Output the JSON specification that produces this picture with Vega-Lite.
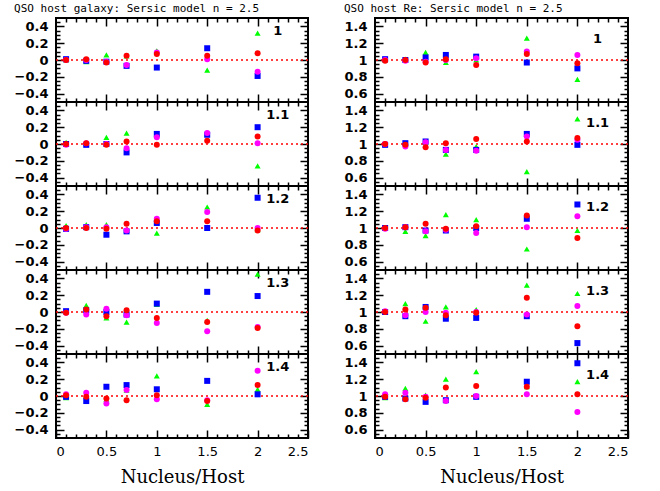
{
"$schema":"https://vega.github.io/schema/vega-lite/v6.json",
"background":"white",
"padding":{"left":13,"top":2,"right":5,"bottom":5},
"spacing":32,
"config":{
 "view":{"stroke":"black","strokeWidth":2},
 "axis":{"grid":false,"domain":false,"labels":false,"ticks":true,"tickColor":"black","tickWidth":1.5,"labelColor":"black","labelFont":"DejaVu Sans","labelFontSize":13,"titleColor":"black"},
 "title":{"font":"DejaVu Sans Mono","fontSize":11,"fontWeight":"normal","anchor":"start","offset":3,"color":"black"},
 "text":{"font":"DejaVu Sans","fontWeight":"bold","fontSize":13,"align":"center","baseline":"middle","color":"black"}
},
"datasets":{
"L":[
{"n":"1","s":"g","x":0.1,"v":0.0},{"n":"1","s":"g","x":0.3,"v":-0.02},{"n":"1","s":"g","x":0.5,"v":0.06},{"n":"1","s":"g","x":0.7,"v":0.05},{"n":"1","s":"g","x":1.0,"v":0.11},{"n":"1","s":"g","x":1.5,"v":-0.12},{"n":"1","s":"g","x":2.0,"v":0.32},
{"n":"1","s":"b","x":0.1,"v":0.01},{"n":"1","s":"b","x":0.3,"v":-0.01},{"n":"1","s":"b","x":0.5,"v":-0.02},{"n":"1","s":"b","x":0.7,"v":-0.07},{"n":"1","s":"b","x":1.0,"v":-0.09},{"n":"1","s":"b","x":1.5,"v":0.14},{"n":"1","s":"b","x":2.0,"v":-0.19},
{"n":"1","s":"m","x":0.1,"v":0.0},{"n":"1","s":"m","x":0.3,"v":0.0},{"n":"1","s":"m","x":0.5,"v":-0.02},{"n":"1","s":"m","x":0.7,"v":-0.06},{"n":"1","s":"m","x":1.0,"v":0.09},{"n":"1","s":"m","x":1.5,"v":0.01},{"n":"1","s":"m","x":2.0,"v":-0.14},
{"n":"1","s":"r","x":0.1,"v":0.0},{"n":"1","s":"r","x":0.3,"v":0.01},{"n":"1","s":"r","x":0.5,"v":-0.03},{"n":"1","s":"r","x":0.7,"v":0.05},{"n":"1","s":"r","x":1.0,"v":0.07},{"n":"1","s":"r","x":1.5,"v":0.05},{"n":"1","s":"r","x":2.0,"v":0.08},
{"n":"1.1","s":"g","x":0.1,"v":0.02},{"n":"1.1","s":"g","x":0.3,"v":0.01},{"n":"1.1","s":"g","x":0.5,"v":0.08},{"n":"1.1","s":"g","x":0.7,"v":0.13},{"n":"1.1","s":"g","x":1.0,"v":0.12},{"n":"1.1","s":"g","x":1.5,"v":0.12},{"n":"1.1","s":"g","x":2.0,"v":-0.26},
{"n":"1.1","s":"b","x":0.1,"v":0.0},{"n":"1.1","s":"b","x":0.3,"v":-0.01},{"n":"1.1","s":"b","x":0.5,"v":0.0},{"n":"1.1","s":"b","x":0.7,"v":-0.1},{"n":"1.1","s":"b","x":1.0,"v":0.12},{"n":"1.1","s":"b","x":1.5,"v":0.11},{"n":"1.1","s":"b","x":2.0,"v":0.2},
{"n":"1.1","s":"m","x":0.1,"v":-0.01},{"n":"1.1","s":"m","x":0.3,"v":0.01},{"n":"1.1","s":"m","x":0.5,"v":0.0},{"n":"1.1","s":"m","x":0.7,"v":-0.05},{"n":"1.1","s":"m","x":1.0,"v":0.08},{"n":"1.1","s":"m","x":1.5,"v":0.13},{"n":"1.1","s":"m","x":2.0,"v":0.01},
{"n":"1.1","s":"r","x":0.1,"v":0.0},{"n":"1.1","s":"r","x":0.3,"v":0.01},{"n":"1.1","s":"r","x":0.5,"v":-0.01},{"n":"1.1","s":"r","x":0.7,"v":0.03},{"n":"1.1","s":"r","x":1.0,"v":-0.01},{"n":"1.1","s":"r","x":1.5,"v":0.04},{"n":"1.1","s":"r","x":2.0,"v":0.09},
{"n":"1.2","s":"g","x":0.1,"v":0.03},{"n":"1.2","s":"g","x":0.3,"v":0.04},{"n":"1.2","s":"g","x":0.5,"v":0.04},{"n":"1.2","s":"g","x":0.7,"v":-0.03},{"n":"1.2","s":"g","x":1.0,"v":-0.06},{"n":"1.2","s":"g","x":1.5,"v":0.25},{"n":"1.2","s":"g","x":2.0,"v":-0.02},
{"n":"1.2","s":"b","x":0.1,"v":-0.01},{"n":"1.2","s":"b","x":0.3,"v":0.01},{"n":"1.2","s":"b","x":0.5,"v":-0.08},{"n":"1.2","s":"b","x":0.7,"v":-0.04},{"n":"1.2","s":"b","x":1.0,"v":0.06},{"n":"1.2","s":"b","x":1.5,"v":0.0},{"n":"1.2","s":"b","x":2.0,"v":0.36},
{"n":"1.2","s":"m","x":0.1,"v":-0.01},{"n":"1.2","s":"m","x":0.3,"v":0.01},{"n":"1.2","s":"m","x":0.5,"v":0.01},{"n":"1.2","s":"m","x":0.7,"v":-0.03},{"n":"1.2","s":"m","x":1.0,"v":0.11},{"n":"1.2","s":"m","x":1.5,"v":0.19},{"n":"1.2","s":"m","x":2.0,"v":0.0},
{"n":"1.2","s":"r","x":0.1,"v":0.0},{"n":"1.2","s":"r","x":0.3,"v":0.0},{"n":"1.2","s":"r","x":0.5,"v":-0.01},{"n":"1.2","s":"r","x":0.7,"v":0.05},{"n":"1.2","s":"r","x":1.0,"v":0.08},{"n":"1.2","s":"r","x":1.5,"v":0.08},{"n":"1.2","s":"r","x":2.0,"v":-0.03},
{"n":"1.3","s":"g","x":0.1,"v":0.0},{"n":"1.3","s":"g","x":0.3,"v":0.08},{"n":"1.3","s":"g","x":0.5,"v":-0.07},{"n":"1.3","s":"g","x":0.7,"v":-0.12},{"n":"1.3","s":"g","x":1.0,"v":0.09},{"n":"1.3","s":"g","x":1.5,"v":-0.1},{"n":"1.3","s":"g","x":2.0,"v":0.45},
{"n":"1.3","s":"b","x":0.1,"v":0.01},{"n":"1.3","s":"b","x":0.3,"v":0.02},{"n":"1.3","s":"b","x":0.5,"v":0.0},{"n":"1.3","s":"b","x":0.7,"v":-0.03},{"n":"1.3","s":"b","x":1.0,"v":0.1},{"n":"1.3","s":"b","x":1.5,"v":0.24},{"n":"1.3","s":"b","x":2.0,"v":0.19},
{"n":"1.3","s":"m","x":0.1,"v":-0.01},{"n":"1.3","s":"m","x":0.3,"v":-0.03},{"n":"1.3","s":"m","x":0.5,"v":0.04},{"n":"1.3","s":"m","x":0.7,"v":-0.04},{"n":"1.3","s":"m","x":1.0,"v":-0.13},{"n":"1.3","s":"m","x":1.5,"v":-0.23},{"n":"1.3","s":"m","x":2.0,"v":-0.18},
{"n":"1.3","s":"r","x":0.1,"v":-0.01},{"n":"1.3","s":"r","x":0.3,"v":0.03},{"n":"1.3","s":"r","x":0.5,"v":-0.05},{"n":"1.3","s":"r","x":0.7,"v":0.02},{"n":"1.3","s":"r","x":1.0,"v":-0.07},{"n":"1.3","s":"r","x":1.5,"v":-0.12},{"n":"1.3","s":"r","x":2.0,"v":-0.19},
{"n":"1.4","s":"g","x":0.1,"v":-0.02},{"n":"1.4","s":"g","x":0.3,"v":0.0},{"n":"1.4","s":"g","x":0.5,"v":-0.04},{"n":"1.4","s":"g","x":0.7,"v":0.07},{"n":"1.4","s":"g","x":1.0,"v":0.24},{"n":"1.4","s":"g","x":1.5,"v":-0.1},{"n":"1.4","s":"g","x":2.0,"v":0.08},
{"n":"1.4","s":"b","x":0.1,"v":-0.01},{"n":"1.4","s":"b","x":0.3,"v":-0.06},{"n":"1.4","s":"b","x":0.5,"v":0.11},{"n":"1.4","s":"b","x":0.7,"v":0.13},{"n":"1.4","s":"b","x":1.0,"v":0.08},{"n":"1.4","s":"b","x":1.5,"v":0.18},{"n":"1.4","s":"b","x":2.0,"v":0.02},
{"n":"1.4","s":"m","x":0.1,"v":0.02},{"n":"1.4","s":"m","x":0.3,"v":0.04},{"n":"1.4","s":"m","x":0.5,"v":-0.09},{"n":"1.4","s":"m","x":0.7,"v":0.07},{"n":"1.4","s":"m","x":1.0,"v":-0.04},{"n":"1.4","s":"m","x":1.5,"v":-0.05},{"n":"1.4","s":"m","x":2.0,"v":0.3},
{"n":"1.4","s":"r","x":0.1,"v":0.01},{"n":"1.4","s":"r","x":0.3,"v":-0.01},{"n":"1.4","s":"r","x":0.5,"v":-0.03},{"n":"1.4","s":"r","x":0.7,"v":-0.05},{"n":"1.4","s":"r","x":1.0,"v":0.01},{"n":"1.4","s":"r","x":1.5,"v":-0.06},{"n":"1.4","s":"r","x":2.0,"v":0.13}
],
"R":[
{"n":"1","s":"g","x":0.1,"v":1.0},{"n":"1","s":"g","x":0.3,"v":1.01},{"n":"1","s":"g","x":0.5,"v":1.09},{"n":"1","s":"g","x":0.7,"v":0.97},{"n":"1","s":"g","x":1.0,"v":1.0},{"n":"1","s":"g","x":1.5,"v":1.26},{"n":"1","s":"g","x":2.0,"v":0.77},
{"n":"1","s":"b","x":0.1,"v":1.01},{"n":"1","s":"b","x":0.3,"v":1.0},{"n":"1","s":"b","x":0.5,"v":1.03},{"n":"1","s":"b","x":0.7,"v":1.06},{"n":"1","s":"b","x":1.0,"v":1.04},{"n":"1","s":"b","x":1.5,"v":0.97},{"n":"1","s":"b","x":2.0,"v":0.9},
{"n":"1","s":"m","x":0.1,"v":1.0},{"n":"1","s":"m","x":0.3,"v":0.99},{"n":"1","s":"m","x":0.5,"v":0.98},{"n":"1","s":"m","x":0.7,"v":1.0},{"n":"1","s":"m","x":1.0,"v":1.02},{"n":"1","s":"m","x":1.5,"v":1.1},{"n":"1","s":"m","x":2.0,"v":1.06},
{"n":"1","s":"r","x":0.1,"v":0.99},{"n":"1","s":"r","x":0.3,"v":1.0},{"n":"1","s":"r","x":0.5,"v":0.97},{"n":"1","s":"r","x":0.7,"v":1.01},{"n":"1","s":"r","x":1.0,"v":0.94},{"n":"1","s":"r","x":1.5,"v":1.07},{"n":"1","s":"r","x":2.0,"v":0.96},
{"n":"1.1","s":"g","x":0.1,"v":1.0},{"n":"1.1","s":"g","x":0.3,"v":1.0},{"n":"1.1","s":"g","x":0.5,"v":1.02},{"n":"1.1","s":"g","x":0.7,"v":0.88},{"n":"1.1","s":"g","x":1.0,"v":0.97},{"n":"1.1","s":"g","x":1.5,"v":0.67},{"n":"1.1","s":"g","x":2.0,"v":1.3},
{"n":"1.1","s":"b","x":0.1,"v":0.99},{"n":"1.1","s":"b","x":0.3,"v":1.01},{"n":"1.1","s":"b","x":0.5,"v":1.03},{"n":"1.1","s":"b","x":0.7,"v":0.93},{"n":"1.1","s":"b","x":1.0,"v":0.93},{"n":"1.1","s":"b","x":1.5,"v":1.12},{"n":"1.1","s":"b","x":2.0,"v":0.99},
{"n":"1.1","s":"m","x":0.1,"v":1.0},{"n":"1.1","s":"m","x":0.3,"v":0.97},{"n":"1.1","s":"m","x":0.5,"v":1.02},{"n":"1.1","s":"m","x":0.7,"v":0.93},{"n":"1.1","s":"m","x":1.0,"v":0.92},{"n":"1.1","s":"m","x":1.5,"v":1.09},{"n":"1.1","s":"m","x":2.0,"v":1.05},
{"n":"1.1","s":"r","x":0.1,"v":1.0},{"n":"1.1","s":"r","x":0.3,"v":0.99},{"n":"1.1","s":"r","x":0.5,"v":0.96},{"n":"1.1","s":"r","x":0.7,"v":1.01},{"n":"1.1","s":"r","x":1.0,"v":1.06},{"n":"1.1","s":"r","x":1.5,"v":1.03},{"n":"1.1","s":"r","x":2.0,"v":1.07},
{"n":"1.2","s":"g","x":0.1,"v":1.0},{"n":"1.2","s":"g","x":0.3,"v":0.96},{"n":"1.2","s":"g","x":0.5,"v":0.91},{"n":"1.2","s":"g","x":0.7,"v":1.16},{"n":"1.2","s":"g","x":1.0,"v":1.1},{"n":"1.2","s":"g","x":1.5,"v":0.75},{"n":"1.2","s":"g","x":2.0,"v":0.97},
{"n":"1.2","s":"b","x":0.1,"v":1.0},{"n":"1.2","s":"b","x":0.3,"v":1.01},{"n":"1.2","s":"b","x":0.5,"v":0.97},{"n":"1.2","s":"b","x":0.7,"v":0.97},{"n":"1.2","s":"b","x":1.0,"v":1.0},{"n":"1.2","s":"b","x":1.5,"v":1.11},{"n":"1.2","s":"b","x":2.0,"v":1.28},
{"n":"1.2","s":"m","x":0.1,"v":0.99},{"n":"1.2","s":"m","x":0.3,"v":1.01},{"n":"1.2","s":"m","x":0.5,"v":0.96},{"n":"1.2","s":"m","x":0.7,"v":0.98},{"n":"1.2","s":"m","x":1.0,"v":0.94},{"n":"1.2","s":"m","x":1.5,"v":1.01},{"n":"1.2","s":"m","x":2.0,"v":1.14},
{"n":"1.2","s":"r","x":0.1,"v":1.0},{"n":"1.2","s":"r","x":0.3,"v":1.01},{"n":"1.2","s":"r","x":0.5,"v":1.05},{"n":"1.2","s":"r","x":0.7,"v":0.99},{"n":"1.2","s":"r","x":1.0,"v":1.02},{"n":"1.2","s":"r","x":1.5,"v":1.15},{"n":"1.2","s":"r","x":2.0,"v":0.88},
{"n":"1.3","s":"g","x":0.1,"v":1.0},{"n":"1.3","s":"g","x":0.3,"v":1.1},{"n":"1.3","s":"g","x":0.5,"v":0.89},{"n":"1.3","s":"g","x":0.7,"v":1.06},{"n":"1.3","s":"g","x":1.0,"v":1.03},{"n":"1.3","s":"g","x":1.5,"v":1.32},{"n":"1.3","s":"g","x":2.0,"v":1.22},
{"n":"1.3","s":"b","x":0.1,"v":1.0},{"n":"1.3","s":"b","x":0.3,"v":0.95},{"n":"1.3","s":"b","x":0.5,"v":1.06},{"n":"1.3","s":"b","x":0.7,"v":0.92},{"n":"1.3","s":"b","x":1.0,"v":0.93},{"n":"1.3","s":"b","x":1.5,"v":0.95},{"n":"1.3","s":"b","x":2.0,"v":0.63},
{"n":"1.3","s":"m","x":0.1,"v":1.01},{"n":"1.3","s":"m","x":0.3,"v":0.96},{"n":"1.3","s":"m","x":0.5,"v":1.0},{"n":"1.3","s":"m","x":0.7,"v":0.99},{"n":"1.3","s":"m","x":1.0,"v":1.0},{"n":"1.3","s":"m","x":1.5,"v":0.97},{"n":"1.3","s":"m","x":2.0,"v":1.07},
{"n":"1.3","s":"r","x":0.1,"v":1.0},{"n":"1.3","s":"r","x":0.3,"v":1.03},{"n":"1.3","s":"r","x":0.5,"v":1.05},{"n":"1.3","s":"r","x":0.7,"v":0.96},{"n":"1.3","s":"r","x":1.0,"v":0.99},{"n":"1.3","s":"r","x":1.5,"v":1.17},{"n":"1.3","s":"r","x":2.0,"v":0.83},
{"n":"1.4","s":"g","x":0.1,"v":0.98},{"n":"1.4","s":"g","x":0.3,"v":1.09},{"n":"1.4","s":"g","x":0.5,"v":1.01},{"n":"1.4","s":"g","x":0.7,"v":1.2},{"n":"1.4","s":"g","x":1.0,"v":1.29},{"n":"1.4","s":"g","x":1.5,"v":1.11},{"n":"1.4","s":"g","x":2.0,"v":1.17},
{"n":"1.4","s":"b","x":0.1,"v":0.99},{"n":"1.4","s":"b","x":0.3,"v":0.97},{"n":"1.4","s":"b","x":0.5,"v":0.93},{"n":"1.4","s":"b","x":0.7,"v":0.95},{"n":"1.4","s":"b","x":1.0,"v":0.99},{"n":"1.4","s":"b","x":1.5,"v":1.17},{"n":"1.4","s":"b","x":2.0,"v":1.39},
{"n":"1.4","s":"m","x":0.1,"v":1.02},{"n":"1.4","s":"m","x":0.3,"v":1.04},{"n":"1.4","s":"m","x":0.5,"v":0.99},{"n":"1.4","s":"m","x":0.7,"v":0.94},{"n":"1.4","s":"m","x":1.0,"v":1.0},{"n":"1.4","s":"m","x":1.5,"v":1.02},{"n":"1.4","s":"m","x":2.0,"v":0.81},
{"n":"1.4","s":"r","x":0.1,"v":0.99},{"n":"1.4","s":"r","x":0.3,"v":0.96},{"n":"1.4","s":"r","x":0.5,"v":0.98},{"n":"1.4","s":"r","x":0.7,"v":1.1},{"n":"1.4","s":"r","x":1.0,"v":1.12},{"n":"1.4","s":"r","x":1.5,"v":1.11},{"n":"1.4","s":"r","x":2.0,"v":1.02}
]
},
"hconcat":[
{"spacing":0,"bounds":"flush","vconcat":[
{"width":252,"height":84,"title":"QSO host galaxy: Sersic model n = 2.5","resolve":{"axis":{"x":"independent","y":"independent"}},"layer":[
 {"data":{"values":[{}]},"mark":{"type":"rule","color":"#ff0000","strokeDash":[2,3],"strokeWidth":1.5},"encoding":{"y":{"datum":0,"axis":{"orient":"left","values":[-0.45,-0.35,-0.3,-0.25,-0.15,-0.1,-0.05,0.05,0.1,0.15,0.25,0.3,0.35,0.45],"offset":-4,"tickSize":4,"title":null}}}},
 {"data":{"name":"L"},"transform":[{"filter":"datum.n == '1'"}],"mark":{"type":"point","filled":true,"opacity":1,"size":36},"encoding":{
  "x":{"field":"x","type":"quantitative","scale":{"domain":[0,2.5],"nice":false},"axis":{"orient":"bottom","values":[0.5,1,1.5,2],"offset":-8,"tickSize":8,"title":null}},
  "y":{"field":"v","type":"quantitative","scale":{"domain":[-0.5,0.5],"nice":false},"axis":{"orient":"left","values":[-0.4,-0.2,0,0.2,0.4],"offset":-8,"tickSize":8,"labels":true,"labelFontWeight":"bold","labelPadding":8,"format":"~g","title":null}},
  "color":{"field":"s","type":"nominal","scale":{"domain":["g","b","m","r"],"range":["#00ff00","#0000ff","#ff00ff","#ff0000"]},"legend":null},
  "shape":{"field":"s","type":"nominal","scale":{"domain":["g","b","m","r"],"range":["triangle-up","square","circle","circle"]},"legend":null}}},
 {"data":{"values":[{}]},"mark":{"type":"text","text":"1"},"encoding":{"x":{"datum":2.2,"axis":{"orient":"top","values":[0.5,1,1.5,2],"offset":-8,"tickSize":8,"title":null}},"y":{"datum":0.34,"axis":{"orient":"right","values":[-0.4,-0.2,0,0.2,0.4],"offset":-8,"tickSize":8,"title":null}}}},
 {"data":{"values":[{}]},"mark":{"type":"text","text":" "},"encoding":{"x":{"datum":1,"axis":{"orient":"bottom","values":[0.1,0.2,0.3,0.4,0.6,0.7,0.8,0.9,1.1,1.2,1.3,1.4,1.6,1.7,1.8,1.9,2.1,2.2,2.3,2.4],"offset":-4,"tickSize":4,"title":null}},"y":{"datum":0,"axis":{"orient":"right","values":[-0.45,-0.35,-0.3,-0.25,-0.15,-0.1,-0.05,0.05,0.1,0.15,0.25,0.3,0.35,0.45],"offset":-4,"tickSize":4,"title":null}}}},
 {"data":{"values":[{}]},"mark":{"type":"text","text":" "},"encoding":{"x":{"datum":1,"axis":{"orient":"top","values":[0.1,0.2,0.3,0.4,0.6,0.7,0.8,0.9,1.1,1.2,1.3,1.4,1.6,1.7,1.8,1.9,2.1,2.2,2.3,2.4],"offset":-4,"tickSize":4,"title":null}}}}
]},
{"width":252,"height":84,"resolve":{"axis":{"x":"independent","y":"independent"}},"layer":[
 {"data":{"values":[{}]},"mark":{"type":"rule","color":"#ff0000","strokeDash":[2,3],"strokeWidth":1.5},"encoding":{"y":{"datum":0,"axis":{"orient":"left","values":[-0.45,-0.35,-0.3,-0.25,-0.15,-0.1,-0.05,0.05,0.1,0.15,0.25,0.3,0.35,0.45],"offset":-4,"tickSize":4,"title":null}}}},
 {"data":{"name":"L"},"transform":[{"filter":"datum.n == '1.1'"}],"mark":{"type":"point","filled":true,"opacity":1,"size":36},"encoding":{
  "x":{"field":"x","type":"quantitative","scale":{"domain":[0,2.5],"nice":false},"axis":{"orient":"bottom","values":[0.5,1,1.5,2],"offset":-8,"tickSize":8,"title":null}},
  "y":{"field":"v","type":"quantitative","scale":{"domain":[-0.5,0.5],"nice":false},"axis":{"orient":"left","values":[-0.4,-0.2,0,0.2,0.4],"offset":-8,"tickSize":8,"labels":true,"labelFontWeight":"bold","labelPadding":8,"format":"~g","title":null}},
  "color":{"field":"s","type":"nominal","scale":{"domain":["g","b","m","r"],"range":["#00ff00","#0000ff","#ff00ff","#ff0000"]},"legend":null},
  "shape":{"field":"s","type":"nominal","scale":{"domain":["g","b","m","r"],"range":["triangle-up","square","circle","circle"]},"legend":null}}},
 {"data":{"values":[{}]},"mark":{"type":"text","text":"1.1"},"encoding":{"x":{"datum":2.2,"axis":{"orient":"top","values":[0.5,1,1.5,2],"offset":-8,"tickSize":8,"title":null}},"y":{"datum":0.34,"axis":{"orient":"right","values":[-0.4,-0.2,0,0.2,0.4],"offset":-8,"tickSize":8,"title":null}}}},
 {"data":{"values":[{}]},"mark":{"type":"text","text":" "},"encoding":{"x":{"datum":1,"axis":{"orient":"bottom","values":[0.1,0.2,0.3,0.4,0.6,0.7,0.8,0.9,1.1,1.2,1.3,1.4,1.6,1.7,1.8,1.9,2.1,2.2,2.3,2.4],"offset":-4,"tickSize":4,"title":null}},"y":{"datum":0,"axis":{"orient":"right","values":[-0.45,-0.35,-0.3,-0.25,-0.15,-0.1,-0.05,0.05,0.1,0.15,0.25,0.3,0.35,0.45],"offset":-4,"tickSize":4,"title":null}}}},
 {"data":{"values":[{}]},"mark":{"type":"text","text":" "},"encoding":{"x":{"datum":1,"axis":{"orient":"top","values":[0.1,0.2,0.3,0.4,0.6,0.7,0.8,0.9,1.1,1.2,1.3,1.4,1.6,1.7,1.8,1.9,2.1,2.2,2.3,2.4],"offset":-4,"tickSize":4,"title":null}}}}
]},
{"width":252,"height":84,"resolve":{"axis":{"x":"independent","y":"independent"}},"layer":[
 {"data":{"values":[{}]},"mark":{"type":"rule","color":"#ff0000","strokeDash":[2,3],"strokeWidth":1.5},"encoding":{"y":{"datum":0,"axis":{"orient":"left","values":[-0.45,-0.35,-0.3,-0.25,-0.15,-0.1,-0.05,0.05,0.1,0.15,0.25,0.3,0.35,0.45],"offset":-4,"tickSize":4,"title":null}}}},
 {"data":{"name":"L"},"transform":[{"filter":"datum.n == '1.2'"}],"mark":{"type":"point","filled":true,"opacity":1,"size":36},"encoding":{
  "x":{"field":"x","type":"quantitative","scale":{"domain":[0,2.5],"nice":false},"axis":{"orient":"bottom","values":[0.5,1,1.5,2],"offset":-8,"tickSize":8,"title":null}},
  "y":{"field":"v","type":"quantitative","scale":{"domain":[-0.5,0.5],"nice":false},"axis":{"orient":"left","values":[-0.4,-0.2,0,0.2,0.4],"offset":-8,"tickSize":8,"labels":true,"labelFontWeight":"bold","labelPadding":8,"format":"~g","title":null}},
  "color":{"field":"s","type":"nominal","scale":{"domain":["g","b","m","r"],"range":["#00ff00","#0000ff","#ff00ff","#ff0000"]},"legend":null},
  "shape":{"field":"s","type":"nominal","scale":{"domain":["g","b","m","r"],"range":["triangle-up","square","circle","circle"]},"legend":null}}},
 {"data":{"values":[{}]},"mark":{"type":"text","text":"1.2"},"encoding":{"x":{"datum":2.2,"axis":{"orient":"top","values":[0.5,1,1.5,2],"offset":-8,"tickSize":8,"title":null}},"y":{"datum":0.34,"axis":{"orient":"right","values":[-0.4,-0.2,0,0.2,0.4],"offset":-8,"tickSize":8,"title":null}}}},
 {"data":{"values":[{}]},"mark":{"type":"text","text":" "},"encoding":{"x":{"datum":1,"axis":{"orient":"bottom","values":[0.1,0.2,0.3,0.4,0.6,0.7,0.8,0.9,1.1,1.2,1.3,1.4,1.6,1.7,1.8,1.9,2.1,2.2,2.3,2.4],"offset":-4,"tickSize":4,"title":null}},"y":{"datum":0,"axis":{"orient":"right","values":[-0.45,-0.35,-0.3,-0.25,-0.15,-0.1,-0.05,0.05,0.1,0.15,0.25,0.3,0.35,0.45],"offset":-4,"tickSize":4,"title":null}}}},
 {"data":{"values":[{}]},"mark":{"type":"text","text":" "},"encoding":{"x":{"datum":1,"axis":{"orient":"top","values":[0.1,0.2,0.3,0.4,0.6,0.7,0.8,0.9,1.1,1.2,1.3,1.4,1.6,1.7,1.8,1.9,2.1,2.2,2.3,2.4],"offset":-4,"tickSize":4,"title":null}}}}
]},
{"width":252,"height":84,"resolve":{"axis":{"x":"independent","y":"independent"}},"layer":[
 {"data":{"values":[{}]},"mark":{"type":"rule","color":"#ff0000","strokeDash":[2,3],"strokeWidth":1.5},"encoding":{"y":{"datum":0,"axis":{"orient":"left","values":[-0.45,-0.35,-0.3,-0.25,-0.15,-0.1,-0.05,0.05,0.1,0.15,0.25,0.3,0.35,0.45],"offset":-4,"tickSize":4,"title":null}}}},
 {"data":{"name":"L"},"transform":[{"filter":"datum.n == '1.3'"}],"mark":{"type":"point","filled":true,"opacity":1,"size":36},"encoding":{
  "x":{"field":"x","type":"quantitative","scale":{"domain":[0,2.5],"nice":false},"axis":{"orient":"bottom","values":[0.5,1,1.5,2],"offset":-8,"tickSize":8,"title":null}},
  "y":{"field":"v","type":"quantitative","scale":{"domain":[-0.5,0.5],"nice":false},"axis":{"orient":"left","values":[-0.4,-0.2,0,0.2,0.4],"offset":-8,"tickSize":8,"labels":true,"labelFontWeight":"bold","labelPadding":8,"format":"~g","title":null}},
  "color":{"field":"s","type":"nominal","scale":{"domain":["g","b","m","r"],"range":["#00ff00","#0000ff","#ff00ff","#ff0000"]},"legend":null},
  "shape":{"field":"s","type":"nominal","scale":{"domain":["g","b","m","r"],"range":["triangle-up","square","circle","circle"]},"legend":null}}},
 {"data":{"values":[{}]},"mark":{"type":"text","text":"1.3"},"encoding":{"x":{"datum":2.2,"axis":{"orient":"top","values":[0.5,1,1.5,2],"offset":-8,"tickSize":8,"title":null}},"y":{"datum":0.34,"axis":{"orient":"right","values":[-0.4,-0.2,0,0.2,0.4],"offset":-8,"tickSize":8,"title":null}}}},
 {"data":{"values":[{}]},"mark":{"type":"text","text":" "},"encoding":{"x":{"datum":1,"axis":{"orient":"bottom","values":[0.1,0.2,0.3,0.4,0.6,0.7,0.8,0.9,1.1,1.2,1.3,1.4,1.6,1.7,1.8,1.9,2.1,2.2,2.3,2.4],"offset":-4,"tickSize":4,"title":null}},"y":{"datum":0,"axis":{"orient":"right","values":[-0.45,-0.35,-0.3,-0.25,-0.15,-0.1,-0.05,0.05,0.1,0.15,0.25,0.3,0.35,0.45],"offset":-4,"tickSize":4,"title":null}}}},
 {"data":{"values":[{}]},"mark":{"type":"text","text":" "},"encoding":{"x":{"datum":1,"axis":{"orient":"top","values":[0.1,0.2,0.3,0.4,0.6,0.7,0.8,0.9,1.1,1.2,1.3,1.4,1.6,1.7,1.8,1.9,2.1,2.2,2.3,2.4],"offset":-4,"tickSize":4,"title":null}}}}
]},
{"width":252,"height":84,"resolve":{"axis":{"x":"independent","y":"independent"}},"layer":[
 {"data":{"values":[{}]},"mark":{"type":"rule","color":"#ff0000","strokeDash":[2,3],"strokeWidth":1.5},"encoding":{"y":{"datum":0,"axis":{"orient":"left","values":[-0.45,-0.35,-0.3,-0.25,-0.15,-0.1,-0.05,0.05,0.1,0.15,0.25,0.3,0.35,0.45],"offset":-4,"tickSize":4,"title":null}}}},
 {"data":{"name":"L"},"transform":[{"filter":"datum.n == '1.4'"}],"mark":{"type":"point","filled":true,"opacity":1,"size":36},"encoding":{
  "x":{"field":"x","type":"quantitative","scale":{"domain":[0,2.5],"nice":false},"axis":{"orient":"bottom","values":[0,0.5,1,1.5,2,2.5],"offset":-8,"tickSize":8,"labels":true,"labelPadding":7,"format":"~g","title":"Nucleus/Host","titleFont":"DejaVu Serif","titleFontSize":18,"titleFontWeight":"normal","titlePadding":10}},
  "y":{"field":"v","type":"quantitative","scale":{"domain":[-0.5,0.5],"nice":false},"axis":{"orient":"left","values":[-0.4,-0.2,0,0.2,0.4],"offset":-8,"tickSize":8,"labels":true,"labelFontWeight":"bold","labelPadding":8,"format":"~g","title":null}},
  "color":{"field":"s","type":"nominal","scale":{"domain":["g","b","m","r"],"range":["#00ff00","#0000ff","#ff00ff","#ff0000"]},"legend":null},
  "shape":{"field":"s","type":"nominal","scale":{"domain":["g","b","m","r"],"range":["triangle-up","square","circle","circle"]},"legend":null}}},
 {"data":{"values":[{}]},"mark":{"type":"text","text":"1.4"},"encoding":{"x":{"datum":2.2,"axis":{"orient":"top","values":[0.5,1,1.5,2],"offset":-8,"tickSize":8,"title":null}},"y":{"datum":0.34,"axis":{"orient":"right","values":[-0.4,-0.2,0,0.2,0.4],"offset":-8,"tickSize":8,"title":null}}}},
 {"data":{"values":[{}]},"mark":{"type":"text","text":" "},"encoding":{"x":{"datum":1,"axis":{"orient":"bottom","values":[0.1,0.2,0.3,0.4,0.6,0.7,0.8,0.9,1.1,1.2,1.3,1.4,1.6,1.7,1.8,1.9,2.1,2.2,2.3,2.4],"offset":-4,"tickSize":4,"title":null}},"y":{"datum":0,"axis":{"orient":"right","values":[-0.45,-0.35,-0.3,-0.25,-0.15,-0.1,-0.05,0.05,0.1,0.15,0.25,0.3,0.35,0.45],"offset":-4,"tickSize":4,"title":null}}}},
 {"data":{"values":[{}]},"mark":{"type":"text","text":" "},"encoding":{"x":{"datum":1,"axis":{"orient":"top","values":[0.1,0.2,0.3,0.4,0.6,0.7,0.8,0.9,1.1,1.2,1.3,1.4,1.6,1.7,1.8,1.9,2.1,2.2,2.3,2.4],"offset":-4,"tickSize":4,"title":null}}}}
]}
]},
{"spacing":0,"bounds":"flush","vconcat":[
{"width":253,"height":84,"title":"QSO host Re: Sersic model n = 2.5","resolve":{"axis":{"x":"independent","y":"independent"}},"layer":[
 {"data":{"values":[{}]},"mark":{"type":"rule","color":"#ff0000","strokeDash":[2,3],"strokeWidth":1.5},"encoding":{"y":{"datum":1,"axis":{"orient":"left","values":[0.55,0.65,0.7,0.75,0.85,0.9,0.95,1.05,1.1,1.15,1.25,1.3,1.35,1.45],"offset":-4,"tickSize":4,"title":null}}}},
 {"data":{"name":"R"},"transform":[{"filter":"datum.n == '1'"}],"mark":{"type":"point","filled":true,"opacity":1,"size":36},"encoding":{
  "x":{"field":"x","type":"quantitative","scale":{"domain":[0,2.5],"nice":false},"axis":{"orient":"bottom","values":[0.5,1,1.5,2],"offset":-8,"tickSize":8,"title":null}},
  "y":{"field":"v","type":"quantitative","scale":{"domain":[0.5,1.5],"nice":false,"zero":false},"axis":{"orient":"left","values":[0.6,0.8,1,1.2,1.4],"offset":-8,"tickSize":8,"labels":true,"labelFontWeight":"bold","labelPadding":8,"format":"~g","title":null}},
  "color":{"field":"s","type":"nominal","scale":{"domain":["g","b","m","r"],"range":["#00ff00","#0000ff","#ff00ff","#ff0000"]},"legend":null},
  "shape":{"field":"s","type":"nominal","scale":{"domain":["g","b","m","r"],"range":["triangle-up","square","circle","circle"]},"legend":null}}},
 {"data":{"values":[{}]},"mark":{"type":"text","text":"1"},"encoding":{"x":{"datum":2.2,"axis":{"orient":"top","values":[0.5,1,1.5,2],"offset":-8,"tickSize":8,"title":null}},"y":{"datum":1.25,"axis":{"orient":"right","values":[0.6,0.8,1,1.2,1.4],"offset":-8,"tickSize":8,"title":null}}}},
 {"data":{"values":[{}]},"mark":{"type":"text","text":" "},"encoding":{"x":{"datum":1,"axis":{"orient":"bottom","values":[0.1,0.2,0.3,0.4,0.6,0.7,0.8,0.9,1.1,1.2,1.3,1.4,1.6,1.7,1.8,1.9,2.1,2.2,2.3,2.4],"offset":-4,"tickSize":4,"title":null}},"y":{"datum":1,"axis":{"orient":"right","values":[0.55,0.65,0.7,0.75,0.85,0.9,0.95,1.05,1.1,1.15,1.25,1.3,1.35,1.45],"offset":-4,"tickSize":4,"title":null}}}},
 {"data":{"values":[{}]},"mark":{"type":"text","text":" "},"encoding":{"x":{"datum":1,"axis":{"orient":"top","values":[0.1,0.2,0.3,0.4,0.6,0.7,0.8,0.9,1.1,1.2,1.3,1.4,1.6,1.7,1.8,1.9,2.1,2.2,2.3,2.4],"offset":-4,"tickSize":4,"title":null}}}}
]},
{"width":253,"height":84,"resolve":{"axis":{"x":"independent","y":"independent"}},"layer":[
 {"data":{"values":[{}]},"mark":{"type":"rule","color":"#ff0000","strokeDash":[2,3],"strokeWidth":1.5},"encoding":{"y":{"datum":1,"axis":{"orient":"left","values":[0.55,0.65,0.7,0.75,0.85,0.9,0.95,1.05,1.1,1.15,1.25,1.3,1.35,1.45],"offset":-4,"tickSize":4,"title":null}}}},
 {"data":{"name":"R"},"transform":[{"filter":"datum.n == '1.1'"}],"mark":{"type":"point","filled":true,"opacity":1,"size":36},"encoding":{
  "x":{"field":"x","type":"quantitative","scale":{"domain":[0,2.5],"nice":false},"axis":{"orient":"bottom","values":[0.5,1,1.5,2],"offset":-8,"tickSize":8,"title":null}},
  "y":{"field":"v","type":"quantitative","scale":{"domain":[0.5,1.5],"nice":false,"zero":false},"axis":{"orient":"left","values":[0.6,0.8,1,1.2,1.4],"offset":-8,"tickSize":8,"labels":true,"labelFontWeight":"bold","labelPadding":8,"format":"~g","title":null}},
  "color":{"field":"s","type":"nominal","scale":{"domain":["g","b","m","r"],"range":["#00ff00","#0000ff","#ff00ff","#ff0000"]},"legend":null},
  "shape":{"field":"s","type":"nominal","scale":{"domain":["g","b","m","r"],"range":["triangle-up","square","circle","circle"]},"legend":null}}},
 {"data":{"values":[{}]},"mark":{"type":"text","text":"1.1"},"encoding":{"x":{"datum":2.2,"axis":{"orient":"top","values":[0.5,1,1.5,2],"offset":-8,"tickSize":8,"title":null}},"y":{"datum":1.25,"axis":{"orient":"right","values":[0.6,0.8,1,1.2,1.4],"offset":-8,"tickSize":8,"title":null}}}},
 {"data":{"values":[{}]},"mark":{"type":"text","text":" "},"encoding":{"x":{"datum":1,"axis":{"orient":"bottom","values":[0.1,0.2,0.3,0.4,0.6,0.7,0.8,0.9,1.1,1.2,1.3,1.4,1.6,1.7,1.8,1.9,2.1,2.2,2.3,2.4],"offset":-4,"tickSize":4,"title":null}},"y":{"datum":1,"axis":{"orient":"right","values":[0.55,0.65,0.7,0.75,0.85,0.9,0.95,1.05,1.1,1.15,1.25,1.3,1.35,1.45],"offset":-4,"tickSize":4,"title":null}}}},
 {"data":{"values":[{}]},"mark":{"type":"text","text":" "},"encoding":{"x":{"datum":1,"axis":{"orient":"top","values":[0.1,0.2,0.3,0.4,0.6,0.7,0.8,0.9,1.1,1.2,1.3,1.4,1.6,1.7,1.8,1.9,2.1,2.2,2.3,2.4],"offset":-4,"tickSize":4,"title":null}}}}
]},
{"width":253,"height":84,"resolve":{"axis":{"x":"independent","y":"independent"}},"layer":[
 {"data":{"values":[{}]},"mark":{"type":"rule","color":"#ff0000","strokeDash":[2,3],"strokeWidth":1.5},"encoding":{"y":{"datum":1,"axis":{"orient":"left","values":[0.55,0.65,0.7,0.75,0.85,0.9,0.95,1.05,1.1,1.15,1.25,1.3,1.35,1.45],"offset":-4,"tickSize":4,"title":null}}}},
 {"data":{"name":"R"},"transform":[{"filter":"datum.n == '1.2'"}],"mark":{"type":"point","filled":true,"opacity":1,"size":36},"encoding":{
  "x":{"field":"x","type":"quantitative","scale":{"domain":[0,2.5],"nice":false},"axis":{"orient":"bottom","values":[0.5,1,1.5,2],"offset":-8,"tickSize":8,"title":null}},
  "y":{"field":"v","type":"quantitative","scale":{"domain":[0.5,1.5],"nice":false,"zero":false},"axis":{"orient":"left","values":[0.6,0.8,1,1.2,1.4],"offset":-8,"tickSize":8,"labels":true,"labelFontWeight":"bold","labelPadding":8,"format":"~g","title":null}},
  "color":{"field":"s","type":"nominal","scale":{"domain":["g","b","m","r"],"range":["#00ff00","#0000ff","#ff00ff","#ff0000"]},"legend":null},
  "shape":{"field":"s","type":"nominal","scale":{"domain":["g","b","m","r"],"range":["triangle-up","square","circle","circle"]},"legend":null}}},
 {"data":{"values":[{}]},"mark":{"type":"text","text":"1.2"},"encoding":{"x":{"datum":2.2,"axis":{"orient":"top","values":[0.5,1,1.5,2],"offset":-8,"tickSize":8,"title":null}},"y":{"datum":1.25,"axis":{"orient":"right","values":[0.6,0.8,1,1.2,1.4],"offset":-8,"tickSize":8,"title":null}}}},
 {"data":{"values":[{}]},"mark":{"type":"text","text":" "},"encoding":{"x":{"datum":1,"axis":{"orient":"bottom","values":[0.1,0.2,0.3,0.4,0.6,0.7,0.8,0.9,1.1,1.2,1.3,1.4,1.6,1.7,1.8,1.9,2.1,2.2,2.3,2.4],"offset":-4,"tickSize":4,"title":null}},"y":{"datum":1,"axis":{"orient":"right","values":[0.55,0.65,0.7,0.75,0.85,0.9,0.95,1.05,1.1,1.15,1.25,1.3,1.35,1.45],"offset":-4,"tickSize":4,"title":null}}}},
 {"data":{"values":[{}]},"mark":{"type":"text","text":" "},"encoding":{"x":{"datum":1,"axis":{"orient":"top","values":[0.1,0.2,0.3,0.4,0.6,0.7,0.8,0.9,1.1,1.2,1.3,1.4,1.6,1.7,1.8,1.9,2.1,2.2,2.3,2.4],"offset":-4,"tickSize":4,"title":null}}}}
]},
{"width":253,"height":84,"resolve":{"axis":{"x":"independent","y":"independent"}},"layer":[
 {"data":{"values":[{}]},"mark":{"type":"rule","color":"#ff0000","strokeDash":[2,3],"strokeWidth":1.5},"encoding":{"y":{"datum":1,"axis":{"orient":"left","values":[0.55,0.65,0.7,0.75,0.85,0.9,0.95,1.05,1.1,1.15,1.25,1.3,1.35,1.45],"offset":-4,"tickSize":4,"title":null}}}},
 {"data":{"name":"R"},"transform":[{"filter":"datum.n == '1.3'"}],"mark":{"type":"point","filled":true,"opacity":1,"size":36},"encoding":{
  "x":{"field":"x","type":"quantitative","scale":{"domain":[0,2.5],"nice":false},"axis":{"orient":"bottom","values":[0.5,1,1.5,2],"offset":-8,"tickSize":8,"title":null}},
  "y":{"field":"v","type":"quantitative","scale":{"domain":[0.5,1.5],"nice":false,"zero":false},"axis":{"orient":"left","values":[0.6,0.8,1,1.2,1.4],"offset":-8,"tickSize":8,"labels":true,"labelFontWeight":"bold","labelPadding":8,"format":"~g","title":null}},
  "color":{"field":"s","type":"nominal","scale":{"domain":["g","b","m","r"],"range":["#00ff00","#0000ff","#ff00ff","#ff0000"]},"legend":null},
  "shape":{"field":"s","type":"nominal","scale":{"domain":["g","b","m","r"],"range":["triangle-up","square","circle","circle"]},"legend":null}}},
 {"data":{"values":[{}]},"mark":{"type":"text","text":"1.3"},"encoding":{"x":{"datum":2.2,"axis":{"orient":"top","values":[0.5,1,1.5,2],"offset":-8,"tickSize":8,"title":null}},"y":{"datum":1.25,"axis":{"orient":"right","values":[0.6,0.8,1,1.2,1.4],"offset":-8,"tickSize":8,"title":null}}}},
 {"data":{"values":[{}]},"mark":{"type":"text","text":" "},"encoding":{"x":{"datum":1,"axis":{"orient":"bottom","values":[0.1,0.2,0.3,0.4,0.6,0.7,0.8,0.9,1.1,1.2,1.3,1.4,1.6,1.7,1.8,1.9,2.1,2.2,2.3,2.4],"offset":-4,"tickSize":4,"title":null}},"y":{"datum":1,"axis":{"orient":"right","values":[0.55,0.65,0.7,0.75,0.85,0.9,0.95,1.05,1.1,1.15,1.25,1.3,1.35,1.45],"offset":-4,"tickSize":4,"title":null}}}},
 {"data":{"values":[{}]},"mark":{"type":"text","text":" "},"encoding":{"x":{"datum":1,"axis":{"orient":"top","values":[0.1,0.2,0.3,0.4,0.6,0.7,0.8,0.9,1.1,1.2,1.3,1.4,1.6,1.7,1.8,1.9,2.1,2.2,2.3,2.4],"offset":-4,"tickSize":4,"title":null}}}}
]},
{"width":253,"height":84,"resolve":{"axis":{"x":"independent","y":"independent"}},"layer":[
 {"data":{"values":[{}]},"mark":{"type":"rule","color":"#ff0000","strokeDash":[2,3],"strokeWidth":1.5},"encoding":{"y":{"datum":1,"axis":{"orient":"left","values":[0.55,0.65,0.7,0.75,0.85,0.9,0.95,1.05,1.1,1.15,1.25,1.3,1.35,1.45],"offset":-4,"tickSize":4,"title":null}}}},
 {"data":{"name":"R"},"transform":[{"filter":"datum.n == '1.4'"}],"mark":{"type":"point","filled":true,"opacity":1,"size":36},"encoding":{
  "x":{"field":"x","type":"quantitative","scale":{"domain":[0,2.5],"nice":false},"axis":{"orient":"bottom","values":[0,0.5,1,1.5,2,2.5],"offset":-8,"tickSize":8,"labels":true,"labelPadding":7,"format":"~g","title":"Nucleus/Host","titleFont":"DejaVu Serif","titleFontSize":18,"titleFontWeight":"normal","titlePadding":10}},
  "y":{"field":"v","type":"quantitative","scale":{"domain":[0.5,1.5],"nice":false,"zero":false},"axis":{"orient":"left","values":[0.6,0.8,1,1.2,1.4],"offset":-8,"tickSize":8,"labels":true,"labelFontWeight":"bold","labelPadding":8,"format":"~g","title":null}},
  "color":{"field":"s","type":"nominal","scale":{"domain":["g","b","m","r"],"range":["#00ff00","#0000ff","#ff00ff","#ff0000"]},"legend":null},
  "shape":{"field":"s","type":"nominal","scale":{"domain":["g","b","m","r"],"range":["triangle-up","square","circle","circle"]},"legend":null}}},
 {"data":{"values":[{}]},"mark":{"type":"text","text":"1.4"},"encoding":{"x":{"datum":2.2,"axis":{"orient":"top","values":[0.5,1,1.5,2],"offset":-8,"tickSize":8,"title":null}},"y":{"datum":1.25,"axis":{"orient":"right","values":[0.6,0.8,1,1.2,1.4],"offset":-8,"tickSize":8,"title":null}}}},
 {"data":{"values":[{}]},"mark":{"type":"text","text":" "},"encoding":{"x":{"datum":1,"axis":{"orient":"bottom","values":[0.1,0.2,0.3,0.4,0.6,0.7,0.8,0.9,1.1,1.2,1.3,1.4,1.6,1.7,1.8,1.9,2.1,2.2,2.3,2.4],"offset":-4,"tickSize":4,"title":null}},"y":{"datum":1,"axis":{"orient":"right","values":[0.55,0.65,0.7,0.75,0.85,0.9,0.95,1.05,1.1,1.15,1.25,1.3,1.35,1.45],"offset":-4,"tickSize":4,"title":null}}}},
 {"data":{"values":[{}]},"mark":{"type":"text","text":" "},"encoding":{"x":{"datum":1,"axis":{"orient":"top","values":[0.1,0.2,0.3,0.4,0.6,0.7,0.8,0.9,1.1,1.2,1.3,1.4,1.6,1.7,1.8,1.9,2.1,2.2,2.3,2.4],"offset":-4,"tickSize":4,"title":null}}}}
]}
]}
]
}
